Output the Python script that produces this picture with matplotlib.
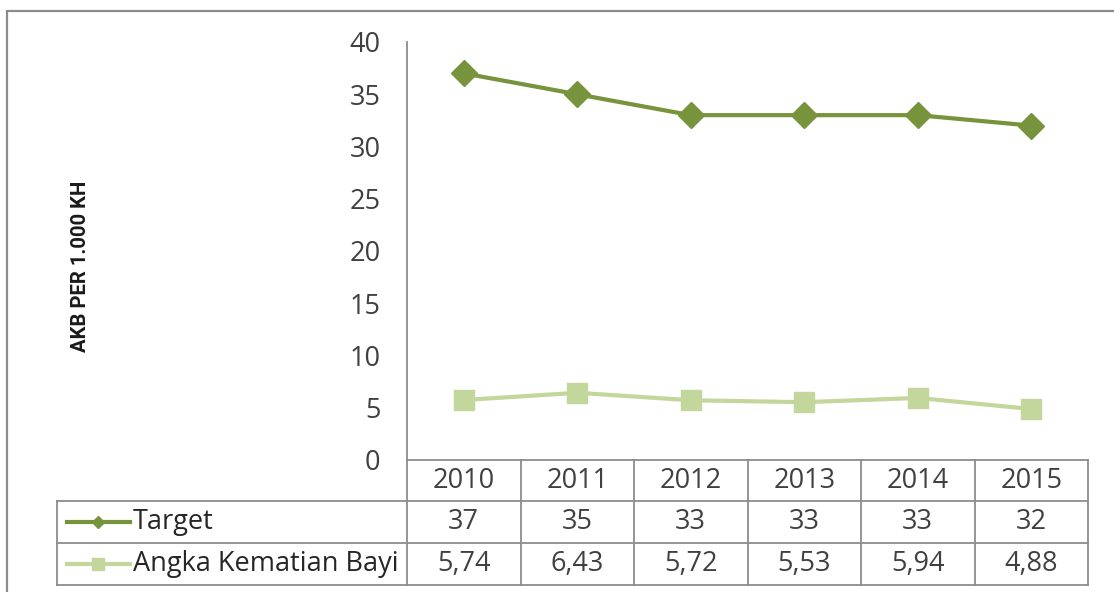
import matplotlib.pyplot as plt
from matplotlib.lines import Line2D
from matplotlib.patches import Rectangle

years = ['2010', '2011', '2012', '2013', '2014', '2015']
target = [37, 35, 33, 33, 33, 32]
akb = [5.74, 6.43, 5.72, 5.53, 5.94, 4.88]
series_names = ['Target', 'Angka Kematian Bayi']
target_labels = ['37', '35', '33', '33', '33', '32']
akb_labels = ['5,74', '6,43', '5,72', '5,53', '5,94', '4,88']

dark_green = '#77933C'
light_green = '#C3D69B'
grid_gray = '#8C8C8C'
txt = '#404040'

plt.rcParams['font.family'] = ['Open Sans', 'DejaVu Sans']

W, H = 1114, 592
fig = plt.figure(figsize=(W / 100, H / 100), dpi=100)
fig.patch.set_facecolor('white')
renderer = fig.canvas.get_renderer()


def fx(px):
    return px / W


def fy(py):
    return 1 - py / H


def fit_size(t, extent, horizontal=True):
    # scale a text's font size so it covers the given pixel extent
    bb = t.get_window_extent(renderer)
    cur = bb.width if horizontal else bb.height
    t.set_fontsize(t.get_fontsize() * extent / cur)
    return t.get_fontsize()


# outer chart frame
fig.add_artist(Rectangle((fx(7), fy(H + 20)), fx(W), fy(11) - fy(H + 20),
                         transform=fig.transFigure, fill=False,
                         edgecolor=grid_gray, linewidth=1.6))

# size the table text from the longest row header
probe = fig.text(0, 0, series_names[1], fontsize=17)
fs = fit_size(probe, 265)
probe.remove()

ax = fig.add_axes([fx(407), fy(460), fx(1088) - fx(407), fy(42) - fy(460)])
x = list(range(len(years)))
ax.plot(x, target, color=dark_green, lw=3, marker='D', ms=13,
        markeredgecolor=dark_green, zorder=3)
ax.plot(x, akb, color=light_green, lw=3, marker='s', ms=15,
        markeredgecolor=light_green, zorder=3)

ax.set_xlim(-0.5, len(years) - 0.5)
ax.set_ylim(0, 40)
ax.set_yticks(range(0, 41, 5))
ax.set_xticks([])
ax.tick_params(axis='y', length=0, pad=19, labelsize=fs, labelcolor=txt)
for s in ['top', 'right']:
    ax.spines[s].set_visible(False)
ax.spines['left'].set_color(grid_gray)
ax.spines['bottom'].set_color(grid_gray)
ax.spines['left'].set_linewidth(1.3)
ax.spines['bottom'].set_linewidth(1.3)

ylab = fig.text(fx(80), fy(266), 'AKB PER 1.000 KH', rotation=90,
                ha='center', va='center', fontsize=14, fontweight='bold',
                color='#1A1A1A', family=['Roboto', 'DejaVu Sans'])
fit_size(ylab, 172, horizontal=False)

# data table under the plot
fig.canvas.draw()


def col_x(v):
    return ax.transData.transform((v, 0))[0] / W


rows = [460, 501, 543, 585]
left = fx(57)
right = col_x(len(years) - 0.5)
for r in rows[1:]:
    fig.add_artist(Line2D([left, right], [fy(r), fy(r)], color=grid_gray,
                          lw=1.3, transform=fig.transFigure))
fig.add_artist(Line2D([left, left], [fy(rows[1]), fy(rows[3])],
                      color=grid_gray, lw=1.3, transform=fig.transFigure))
for k in range(len(years) + 1):
    xv = col_x(k - 0.5)
    fig.add_artist(Line2D([xv, xv], [fy(rows[0]), fy(rows[3])],
                          color=grid_gray, lw=1.3, transform=fig.transFigure))

for k, yr in enumerate(years):
    cx = col_x(k)
    for j, lab in enumerate([yr, target_labels[k], akb_labels[k]]):
        fig.text(cx, fy((rows[j] + rows[j + 1]) / 2), lab, ha='center',
                 va='center', fontsize=fs, color=txt)

# legend keys in the row headers
for j, (name, c, m, ms) in enumerate([(series_names[0], dark_green, 'D', 6),
                                        (series_names[1], light_green, 's', 9)]):
    yc = fy((rows[j + 1] + rows[j + 2]) / 2)
    fig.add_artist(Line2D([fx(67), fx(130)], [yc, yc], color=c, lw=3,
                          transform=fig.transFigure))
    fig.add_artist(Line2D([fx(98)], [yc], color=c, marker=m, ms=ms,
                          markeredgecolor=c, transform=fig.transFigure))
    fig.text(fx(133), yc, name, ha='left', va='center', fontsize=fs,
             color='#262626')

fig.savefig('out.png', dpi=100)
